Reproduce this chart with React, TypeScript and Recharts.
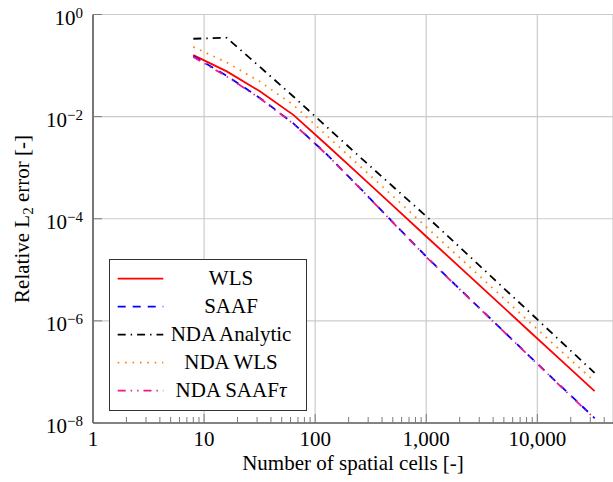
import { LineChart, Line, XAxis, YAxis, CartesianGrid, Legend } from 'recharts'

// Number of spatial cells (doubling refinement)
const cells = [8, 16, 32, 64, 128, 256, 512, 1024, 2048, 4096, 8192, 16384, 32768]

// Relative L2 error per method
const wls = [0.16, 0.077, 0.031, 0.0107, 2.75e-3, 6.9e-4, 1.73e-4, 4.3e-5, 1.08e-5, 2.7e-6, 6.7e-7, 1.68e-7, 4.2e-8]
const saaf = [0.153, 0.063, 0.023, 7.3e-3, 1.8e-3, 3.9e-4, 8.1e-5, 1.72e-5, 4.0e-6, 9.4e-7, 2.2e-7, 5.2e-8, 1.25e-8]
const ndaAnalytic = [0.335, 0.35, 0.093, 0.0245, 6.2e-3, 1.58e-3, 4.1e-4, 1.07e-4, 2.65e-5, 6.5e-6, 1.6e-6, 3.9e-7, 9.6e-8]
const ndaWls = [0.232, 0.115, 0.048, 0.0168, 4.2e-3, 1.05e-3, 2.65e-4, 6.6e-5, 1.65e-5, 4.1e-6, 1.02e-6, 2.55e-7, 6.5e-8]
const ndaSaafTau = [0.148, 0.061, 0.0225, 7.2e-3, 1.78e-3, 3.85e-4, 8.0e-5, 1.7e-5, 3.95e-6, 9.3e-7, 2.18e-7, 5.1e-8, 1.22e-8]

// Axis ticks
const xMajor = [1, 10, 100, 1000, 10000]
const xMinor = [1, 10, 100, 1000, 10000].flatMap(d => [2, 3, 4, 5, 6, 7, 8, 9].map(m => d * m))
const yMajor = [1e-8, 1e-6, 1e-4, 1e-2, 1]
const X_MAX = 48000

const chartData = cells.map((n, i) => ({
  n,
  wls: wls[i],
  saaf: saaf[i],
  ndaAnalytic: ndaAnalytic[i],
  ndaWls: ndaWls[i],
  ndaSaafTau: ndaSaafTau[i],
}))

const series = [
  { key: 'wls', name: 'WLS', color: '#ff0000', dash: undefined as string | undefined },
  { key: 'saaf', name: 'SAAF', color: '#0000ff', dash: '8 7' },
  { key: 'ndaAnalytic', name: 'NDA Analytic', color: '#000000', dash: '8 5 1.4 5' },
  { key: 'ndaWls', name: 'NDA WLS', color: '#ff8000', dash: '1.6 5.8' },
  { key: 'ndaSaafTau', name: 'NDA SAAF', color: '#e8188c', dash: '8 5 1.4 5 1.4 5' },
]

const FONT = 'Liberation Serif, Tinos, DejaVu Serif, serif'
const TICK_COLOR = '#7a7a7a'
const textStyle = { fontFamily: FONT }

const BottomTick = ({ x, y, payload }: any) => {
  const major = xMajor.includes(payload.value)
  return (
    <g>
      <line x1={x} x2={x} y1={y} y2={y - (major ? 9 : 6)} stroke={TICK_COLOR} strokeWidth={1} />
      {major && (
        <text x={x} y={y + 23} textAnchor="middle" style={textStyle} fontSize={21} fill="#000">
          {payload.value.toLocaleString('en-US')}
        </text>
      )}
    </g>
  )
}

const TopTick = ({ x, y, payload }: any) => {
  const major = xMajor.includes(payload.value)
  return <line x1={x} x2={x} y1={y} y2={y + (major ? 9 : 6)} stroke={TICK_COLOR} strokeWidth={1} />
}

const LeftTick = ({ x, y, payload }: any) => {
  const exp = Math.round(Math.log10(payload.value))
  return (
    <g>
      <line x1={x} x2={x + 9} y1={y} y2={y} stroke={TICK_COLOR} strokeWidth={1} />
      <text x={x - 10} y={y + 10} textAnchor="end" style={textStyle} fontSize={21} fill="#000">
        10
        <tspan dy={-7} fontSize={15}>
          {exp === 0 ? '0' : '\u2212' + Math.abs(exp)}
        </tspan>
      </text>
    </g>
  )
}

const YLabel = () => (
  <text
    x={22}
    y={226}
    transform="rotate(-90, 22, 219)"
    textAnchor="middle"
    style={textStyle}
    fontSize={21}
    fill="#000"
  >
    Relative L
    <tspan dy={4} fontSize={15}>
      2
    </tspan>
    <tspan dy={-4}> error [-]</tspan>
  </text>
)

const LegendBox = () => (
  <svg width={198} height={152} style={{ display: 'block' }}>
    <rect x={0.5} y={0.5} width={197} height={151} fill="#fff" stroke="#333" strokeWidth={1} />
    {series.map((s, i) => {
      const cy = 19.7 + i * 28
      return (
        <g key={s.key}>
          <line
            x1={8.7}
            x2={54.3}
            y1={cy}
            y2={cy}
            stroke={s.color}
            strokeWidth={1.8}
            strokeDasharray={s.dash}
          />
          <text x={122} y={cy + 6.5} textAnchor="middle" style={textStyle} fontSize={21} fill="#000">
            {s.name}
            {s.key === 'ndaSaafTau' && <tspan fontStyle="italic">τ</tspan>}
          </text>
        </g>
      )
    })}
  </svg>
)

export default function App() {
  return (
    <div>
      <style>{'html, body { margin: 0; overflow: hidden; }'}</style>
      <LineChart width={613} height={482} data={chartData} margin={{ top: 14.5, right: 0, left: 0, bottom: 0 }}>
        <XAxis xAxisId="grid" dataKey="n" type="number" scale="log" domain={[1, X_MAX]} allowDataOverflow ticks={xMajor} hide />
        <CartesianGrid xAxisId="grid" stroke="#cbcbcb" strokeWidth={1.2} />
        <XAxis
          dataKey="n"
          type="number"
          scale="log"
          domain={[1, X_MAX]}
          allowDataOverflow
          ticks={[...xMajor, ...xMinor.filter(v => v < X_MAX)]}
          interval={0}
          tick={<BottomTick />}
          tickSize={0}
          tickMargin={0}
          height={59}
          axisLine={{ stroke: '#222', strokeWidth: 1.1 }}
          label={{
            value: 'Number of spatial cells [-]',
            position: 'insideBottom',
            offset: 12.5,
            style: { fontFamily: FONT, fontSize: 21, fill: '#000' },
          }}
        />
        <XAxis
          xAxisId="top"
          orientation="top"
          dataKey="n"
          type="number"
          scale="log"
          domain={[1, X_MAX]}
          allowDataOverflow
          ticks={[...xMajor, ...xMinor.filter(v => v < X_MAX)]}
          interval={0}
          tick={<TopTick />}
          tickSize={0}
          tickMargin={0}
          height={0}
          axisLine={{ stroke: '#222', strokeWidth: 1.1 }}
        />
        <YAxis
          type="number"
          scale="log"
          domain={[1e-8, 1]}
          allowDataOverflow
          ticks={yMajor}
          interval={0}
          tick={<LeftTick />}
          tickSize={0}
          tickMargin={0}
          width={93}
          axisLine={{ stroke: '#222', strokeWidth: 1.1 }}
          label={<YLabel />}
        />
        {series.map(s => (
          <Line
            key={s.key}
            dataKey={s.key}
            name={s.name}
            type="linear"
            stroke={s.color}
            strokeWidth={1.8}
            strokeDasharray={s.dash}
            dot={false}
            activeDot={false}
            isAnimationActive={false}
          />
        ))}
        <Legend
          layout="vertical"
          align="center"
          verticalAlign="middle"
          content={() => <LegendBox />}
          wrapperStyle={{ position: 'absolute', left: 109, top: 259.3, width: 198, height: 152 }}
        />
      </LineChart>
    </div>
  )
}
